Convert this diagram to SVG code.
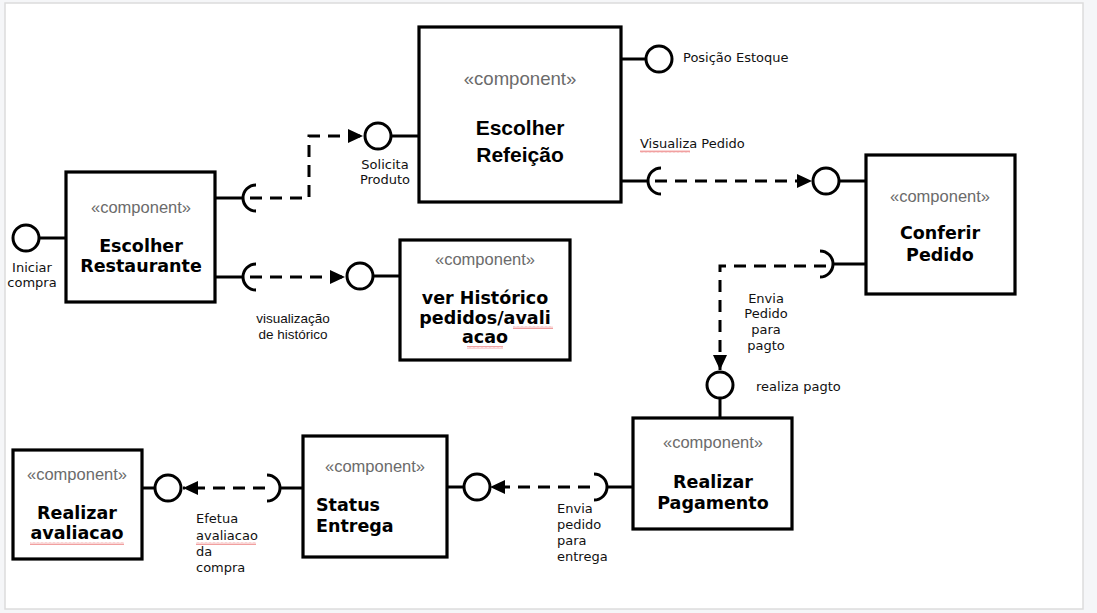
<svg xmlns="http://www.w3.org/2000/svg" width="1097" height="613" viewBox="0 0 1097 613">
<defs>
<style>
.box{fill:#fff;stroke:#000;stroke-width:3.2}
.st{font-family:"Liberation Sans",Arial,sans-serif;font-size:16.5px;fill:#6b6b6b;text-anchor:middle}
.tt{font-family:"DejaVu Sans",Verdana,sans-serif;font-size:17.5px;font-weight:bold;fill:#000;text-anchor:middle}
.tl{text-anchor:start}
.ta{font-family:"Liberation Sans",Arial,sans-serif;font-size:21px;font-weight:bold;fill:#000;text-anchor:middle}
.lb{font-family:"DejaVu Sans",Verdana,sans-serif;font-size:13px;fill:#111}
.la{font-family:"Liberation Sans",Arial,sans-serif;font-size:13.5px;fill:#111}
.ln{fill:none;stroke:#000;stroke-width:3}
.ds{fill:none;stroke:#000;stroke-width:3;stroke-dasharray:12 8}
.ci{fill:#fff;stroke:#000;stroke-width:3}
</style>
<marker id="ah" markerUnits="userSpaceOnUse" markerWidth="16" markerHeight="14" refX="15" refY="7" orient="auto">
<path d="M0,0 L15,7 L0,14 Z" fill="#000"/>
</marker>
<pattern id="sq" patternUnits="userSpaceOnUse" width="4" height="3">
<path d="M0,2.5 L1,0.5 L2,2.5 L3,0.5 L4,2.5" fill="none" stroke="#e86060" stroke-width="0.6"/>
</pattern>
</defs>
<rect x="0" y="0" width="1097" height="613" fill="#f5f6f8"/>
<rect x="5" y="3" width="1078" height="606" fill="#fff" stroke="#dcdcdc" stroke-width="1.5"/>

<g id="connectors">
<line class="ln" x1="216" y1="198" x2="243" y2="198"/>
<path class="ln" d="M256,185 A13,13 0 0 0 256,211"/>
<path class="ds" d="M250,198 H309 V136 H363" marker-end="url(#ah)"/>
<line class="ln" x1="391" y1="136" x2="419" y2="136"/>
<circle class="ci" cx="378" cy="136" r="13"/>
<line class="ln" x1="216" y1="277" x2="243" y2="277"/>
<path class="ln" d="M256,264 A13,13 0 0 0 256,290"/>
<path class="ds" d="M250,277 H345" marker-end="url(#ah)"/>
<line class="ln" x1="373" y1="276" x2="400" y2="276"/>
<circle class="ci" cx="360" cy="276" r="13"/>
<line class="ln" x1="39" y1="238" x2="66" y2="238"/>
<circle class="ci" cx="26" cy="238" r="13"/>
<line class="ln" x1="621" y1="59" x2="646" y2="59"/>
<circle class="ci" cx="659" cy="59" r="13"/>
<line class="ln" x1="621" y1="181" x2="648" y2="181"/>
<path class="ln" d="M661,168 A13,13 0 0 0 661,194"/>
<path class="ds" d="M655,181 H812" marker-end="url(#ah)"/>
<line class="ln" x1="839" y1="181" x2="866" y2="181"/>
<circle class="ci" cx="826" cy="181" r="13"/>
<line class="ln" x1="866" y1="264" x2="833" y2="264"/>
<path class="ln" d="M820,251 A13,13 0 0 1 820,277"/>
<path class="ds" d="M826,266 H720 V370" marker-end="url(#ah)"/>
<line class="ln" x1="720" y1="398" x2="720" y2="418"/>
<circle class="ci" cx="720" cy="385" r="13"/>
<line class="ln" x1="633" y1="487" x2="607" y2="487"/>
<path class="ln" d="M594,474 A13,13 0 0 1 594,500"/>
<path class="ds" d="M590,487 H490" marker-end="url(#ah)"/>
<line class="ln" x1="464" y1="487" x2="447" y2="487"/>
<circle class="ci" cx="477" cy="487" r="13"/>
<line class="ln" x1="303" y1="488" x2="280" y2="488"/>
<path class="ln" d="M267,475 A13,13 0 0 1 267,501"/>
<path class="ds" d="M265,488 H183" marker-end="url(#ah)"/>
<line class="ln" x1="155" y1="488" x2="142" y2="488"/>
<circle class="ci" cx="168" cy="488" r="13"/>
</g>

<g id="labels">
<text class="lb" x="32" y="272" text-anchor="middle">Iniciar</text>
<text class="lb" x="32" y="287" text-anchor="middle">compra</text>
<text class="lb" x="385" y="169" text-anchor="middle">Solicita</text>
<text class="lb" x="385" y="184" text-anchor="middle">Produto</text>
<text class="lb" x="683" y="62">Posição Estoque</text>
<text class="lb" x="640" y="148">Visualiza Pedido</text>
<rect x="640" y="150" width="50" height="3" fill="url(#sq)"/>
<text class="la" x="293" y="323" text-anchor="middle">visualização</text>
<text class="la" x="293" y="339" text-anchor="middle">de histórico</text>
<text class="lb" x="766" y="303" text-anchor="middle">Envia</text>
<text class="lb" x="766" y="318" text-anchor="middle">Pedido</text>
<text class="lb" x="766" y="334" text-anchor="middle">para</text>
<text class="lb" x="766" y="350" text-anchor="middle">pagto</text>
<text class="lb" x="756" y="391">realiza pagto</text>
<text class="lb" x="557" y="513">Envia</text>
<text class="lb" x="557" y="529">pedido</text>
<text class="lb" x="557" y="545">para</text>
<text class="lb" x="557" y="561">entrega</text>
<text class="lb" x="196" y="523">Efetua</text>
<text class="lb" x="196" y="540">avaliacao</text>
<rect x="196" y="542" width="60" height="3" fill="url(#sq)"/>
<text class="lb" x="196" y="556">da</text>
<text class="lb" x="196" y="572">compra</text>
</g>

<g id="escolher-restaurante">
<rect class="box" x="66" y="172" width="149" height="130"/>
<text class="st" x="141" y="213">«component»</text>
<text class="tt" x="141" y="252">Escolher</text>
<text class="tt" x="141" y="272">Restaurante</text>
</g>

<g id="escolher-refeicao">
<rect class="box" x="419" y="27" width="202" height="175"/>
<text class="st" x="520" y="85" style="font-size:18.6px">«component»</text>
<text class="ta" x="520" y="135">Escolher</text>
<text class="ta" x="520" y="162">Refeição</text>
</g>

<g id="ver-historico">
<rect class="box" x="400" y="240" width="170" height="120"/>
<text class="st" x="485" y="265">«component»</text>
<text class="tt" x="485" y="304">ver Histórico</text>
<text class="tt" x="485" y="324">pedidos/avali</text>
<text class="tt" x="485" y="343">acao</text>
<rect x="513" y="326" width="40" height="3" fill="url(#sq)"/>
<rect x="467" y="346" width="36" height="3" fill="url(#sq)"/>
</g>

<g id="conferir-pedido">
<rect class="box" x="866" y="155" width="149" height="139"/>
<text class="st" x="940" y="202">«component»</text>
<text class="tt" x="940" y="239">Conferir</text>
<text class="tt" x="940" y="261">Pedido</text>
</g>

<g id="realizar-pagamento">
<rect class="box" x="633" y="418" width="159" height="111"/>
<text class="st" x="713" y="448">«component»</text>
<text class="tt" x="713" y="488">Realizar</text>
<text class="tt" x="713" y="509">Pagamento</text>
</g>

<g id="status-entrega">
<rect class="box" x="303" y="436" width="144" height="121"/>
<text class="st" x="375" y="472">«component»</text>
<text class="tt tl" x="316" y="511">Status</text>
<text class="tt tl" x="316" y="532">Entrega</text>
</g>

<g id="realizar-avaliacao">
<rect class="box" x="13" y="450" width="129" height="109"/>
<text class="st" x="77" y="480">«component»</text>
<text class="tt" x="77" y="519">Realizar</text>
<text class="tt" x="77" y="539">avaliacao</text>
<rect x="30" y="542" width="94" height="3" fill="url(#sq)"/>
</g>
</svg>
